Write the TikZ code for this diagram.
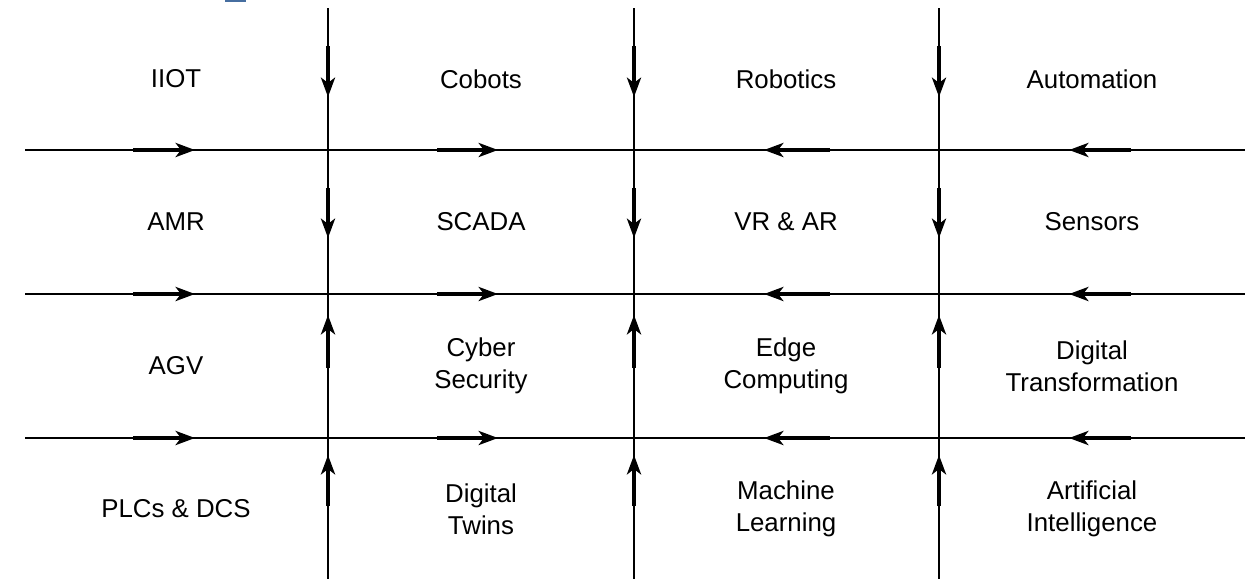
\documentclass[tikz,border=0pt]{standalone}
\usepackage{fontspec}
\setmainfont{Liberation Sans}
\usetikzlibrary{arrows.meta}

\definecolor{topmark}{RGB}{70,110,160}

\tikzset{
  grid/.style={line width=1.4pt},
  flow/.style={line width=2.2pt,->},
  cell/.style={align=center,font=\fontsize{14.7}{18}\selectfont}
}

\begin{document}
\begin{tikzpicture}[line cap=butt,line join=round,>={Stealth[length=11pt,width=8pt,inset=3pt]},x=0.02cm,y=-0.02cm]
\useasboundingbox (0,0) rectangle (1256,579);

\fill[topmark] (225,0) rectangle (246,2);

% horizontal lines
\coordinate (L1) at (25,150);
\coordinate (R1) at (1245,150);
\coordinate (L2) at (25,294);
\coordinate (R2) at (1245,294);
\coordinate (L3) at (25,438);
\coordinate (R3) at (1245,438);

% vertical lines
\coordinate (T1) at (328,8);
\coordinate (B1) at (328,579);
\coordinate (T2) at (634,8);
\coordinate (B2) at (634,579);
\coordinate (T3) at (939,8);
\coordinate (B3) at (939,579);

\draw [grid] (L1) -- (R1);
\draw [grid] (L2) -- (R2);
\draw [grid] (L3) -- (R3);
\draw [grid] (T1) -- (B1);
\draw [grid] (T2) -- (B2);
\draw [grid] (T3) -- (B3);

% arrows along the horizontal lines
\foreach \y in {150,294,438} {
  \draw [flow] (133,\y) -- (195,\y);
  \draw [flow] (437,\y) -- (498,\y);
  \draw [flow] (830,\y) -- (764,\y);
  \draw [flow] (1131,\y) -- (1069,\y);
}

% arrows along the vertical lines
\foreach \x in {328,634,939} {
  \draw [flow] (\x,46) -- (\x,97);
  \draw [flow] (\x,188) -- (\x,238);
  \draw [flow] (\x,368) -- (\x,315);
  \draw [flow] (\x,506) -- (\x,455);
}

% cell labels
\node [cell] (iiot) at (176,79) {IIOT};
\node [cell] (cobots) at (481,79) {Cobots};
\node [cell] (robotics) at (786,79) {Robotics};
\node [cell] (automation) at (1092,79) {Automation};

\node [cell] (amr) at (176,222) {AMR};
\node [cell] (scada) at (481,222) {SCADA};
\node [cell] (vrar) at (786,222) {VR \& AR};
\node [cell] (sensors) at (1092,222) {Sensors};

\node [cell] (agv) at (176,366) {AGV};
\node [cell] (cyber) at (481,366) {Cyber\\Security};
\node [cell] (edge) at (786,366) {Edge\\Computing};
\node [cell] (digtrans) at (1092,366) {Digital\\Transformation};

\node [cell] (plcs) at (176,509) {PLCs \& DCS};
\node [cell] (twins) at (481,509) {Digital\\Twins};
\node [cell] (ml) at (786,509) {Machine\\Learning};
\node [cell] (ai) at (1092,509) {Artificial\\Intelligence};

\end{tikzpicture}
\end{document}
